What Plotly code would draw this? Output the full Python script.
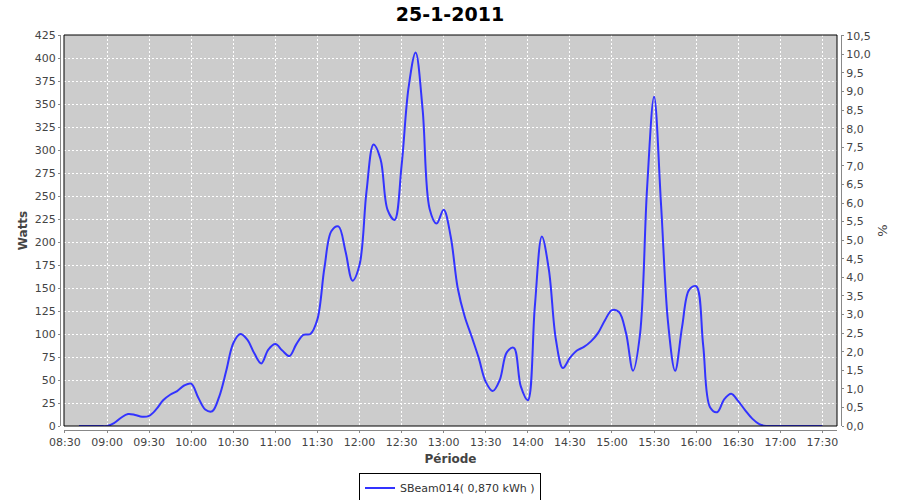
import pandas as pd
import plotly.graph_objects as go

# ---- data -------------------------------------------------------------
title_text = "25-1-2011"
series_name = "SBeam014( 0,870 kWh )"
start_time = "2011-01-25 08:40"
end_time = "2011-01-25 17:30"
watts = [
    0, 0, 0, 0,                                         # 08:40-08:55
    0, 3, 9, 13, 12, 10, 11, 18, 28, 34, 38, 44,        # 09:00-09:55
    46, 31, 18, 16, 32, 60, 90, 100, 94, 79, 68, 83,    # 10:00-10:55
    89, 82, 76, 89, 99, 100, 116, 172, 212, 217, 190, 158,  # 11:00-11:55
    175, 255, 306, 290, 235, 224, 283, 368, 406, 344, 236, 220,  # 12:00-12:55
    235, 206, 150, 119, 97, 74, 48, 38, 50, 80, 85, 43,  # 13:00-13:55
    28, 130, 206, 170, 94, 63, 74, 82, 86, 92, 101, 115,  # 14:00-14:55
    126, 124, 101, 60, 100, 258, 358, 240, 112, 60, 108, 148,  # 15:00-15:55
    152, 88, 20, 15, 29, 35, 27, 17, 8, 2, 0, 0,        # 16:00-16:55
    0, 0, 0, 0, 0, 0, 0,                                # 17:00-17:30
]
times = pd.date_range(start_time, end_time, freq="5min")

x_range = ["2011-01-25 08:29:20", "2011-01-25 17:40:25"]
y_range = [0, 425]
pct_range = [0, 10.52]

# ---- figure -----------------------------------------------------------
W, H = 900, 500
ml, mr, mt, mb = 60, 59, 35, 70
pw, ph = W - ml - mr, H - mt - mb
gap = 4

font_family = "DejaVu Sans"
axis_col = "#888888"
txt_col = "#444444"

fig = go.Figure()
fig.add_trace(go.Scatter(
    x=times, y=watts, mode="lines", name=series_name,
    line=dict(color="#3333ff", width=2, shape="spline", smoothing=1.0),
    showlegend=True,
))
# invisible trace to activate the right-hand percentage axis
fig.add_trace(go.Scatter(
    x=[times[0]], y=[0], yaxis="y2", mode="lines",
    line=dict(width=0), showlegend=False, hoverinfo="skip",
))

fig.update_layout(
    width=W, height=H,
    margin=dict(l=ml, r=mr, t=mt, b=mb, autoexpand=False),
    paper_bgcolor="white",
    plot_bgcolor="#cccccc",
    separators=", ",
    font=dict(family=font_family, size=11, color=txt_col),
    title=dict(
        text="<b>" + title_text + "</b>",
        x=0.5, xref="container", xanchor="center",
        y=1 - 14 / H, yref="container", yanchor="middle",
        font=dict(family=font_family, size=19, color="black"),
    ),
    xaxis=dict(
        type="date",
        domain=[gap / pw, 1 - gap / pw],
        anchor="free", position=0,
        range=x_range,
        tick0="2011-01-25 08:30", dtick=30 * 60 * 1000,
        tickformat="%H:%M",
        showline=True, linecolor=axis_col, linewidth=1,
        ticks="outside", ticklen=2, tickcolor=axis_col,
        showgrid=True, gridcolor="white", gridwidth=1, griddash="2px,2px",
        zeroline=False,
        tickfont=dict(family=font_family, size=11, color=txt_col),
        title=dict(text="<b>Période</b>", standoff=6,
                   font=dict(family=font_family, size=12, color=txt_col)),
        automargin=False,
    ),
    yaxis=dict(
        domain=[gap / ph, 1],
        anchor="free", position=0,
        range=y_range, dtick=25,
        showline=True, linecolor=axis_col, linewidth=1,
        ticks="outside", ticklen=2, tickcolor=axis_col,
        showgrid=True, gridcolor="white", gridwidth=1, griddash="2px,2px",
        zeroline=False,
        tickfont=dict(family=font_family, size=11, color=txt_col),
        title=dict(text="<b>Watts</b>", standoff=3,
                   font=dict(family=font_family, size=12, color=txt_col)),
        automargin=False,
    ),
    yaxis2=dict(
        overlaying="y", side="right",
        anchor="free", position=1,
        range=pct_range, dtick=0.5, tickformat=".1f",
        showline=True, linecolor=axis_col, linewidth=1,
        ticks="outside", ticklen=2, tickcolor=axis_col,
        showgrid=False, zeroline=False,
        tickfont=dict(family=font_family, size=11, color=txt_col),
        title=dict(text="%", standoff=8,
                   font=dict(family=font_family, size=13, color=txt_col)),
        automargin=False,
    ),
    legend=dict(
        orientation="h",
        x=0.5, xref="container", xanchor="center",
        y=1 - 488 / H, yref="container", yanchor="middle",
        bgcolor="white", bordercolor="black", borderwidth=1,
        font=dict(family=font_family, size=11, color="#333333"),
        itemwidth=30,
    ),
    shapes=[dict(
        type="rect", xref="x domain", yref="y domain",
        x0=0, x1=1, y0=0, y1=1,
        line=dict(color="black", width=1), fillcolor="rgba(0,0,0,0)",
        layer="above",
    )],
)

fig.write_html(
    "out.html",
    config={"displayModeBar": False},
    post_script="document.body.style.margin='0px';document.body.style.padding='0px';",
)
